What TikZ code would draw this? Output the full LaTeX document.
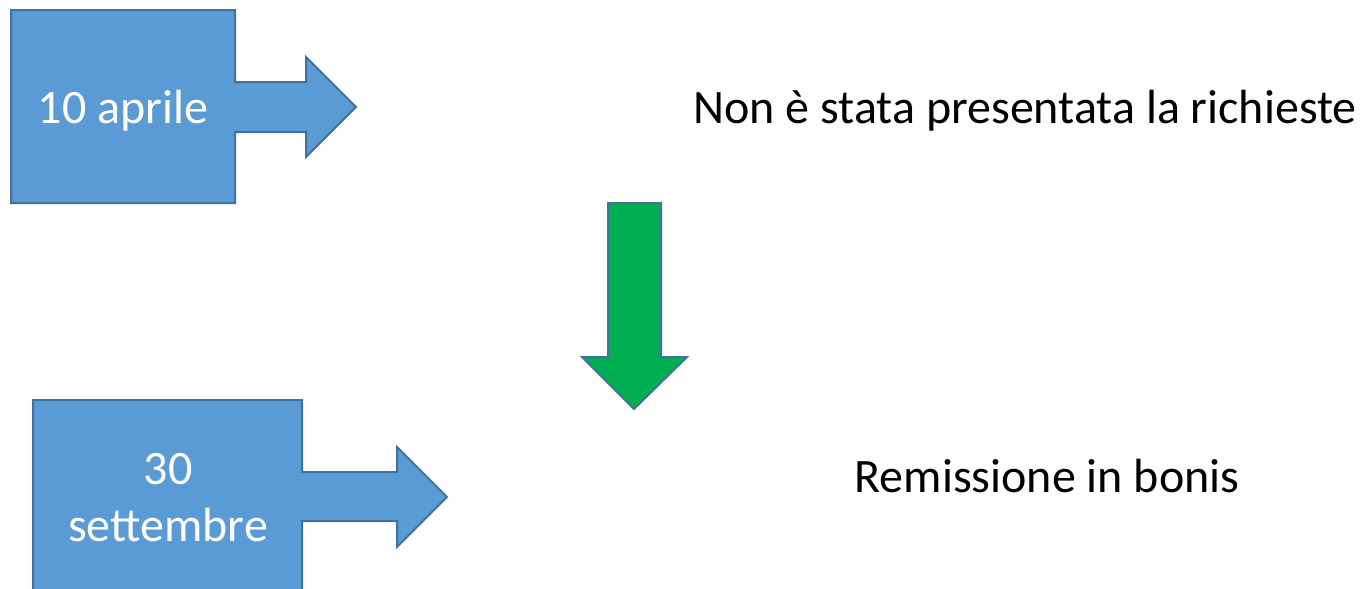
\documentclass[tikz,border=0pt]{standalone}
\usepackage{fontspec}
\setmainfont{Carlito}
\definecolor{boxblue}{HTML}{5B9BD5}
\definecolor{edgeblue}{HTML}{41719C}
\definecolor{arrgreen}{HTML}{00B050}
\begin{document}
\begin{tikzpicture}[x=0.75pt,y=-0.75pt,
  callout/.style={fill=boxblue,draw=edgeblue,line width=1.5pt,line join=miter},
  downarr/.style={fill=arrgreen,draw=edgeblue,line width=1.5pt,line join=miter},
  boxtext/.style={text=white,font=\fontsize{36pt}{43pt}\selectfont,inner sep=0pt,anchor=base},
  plaintext/.style={text=black,font=\fontsize{36pt}{43pt}\selectfont,inner sep=0pt,anchor=base}]
\useasboundingbox (0,0) rectangle (1364,589);
% callout 1
\draw[callout] (11,10) -- (235,10) -- (235,82) -- (306,82) -- (306,57) -- (356,107)
  -- (306,157) -- (306,132) -- (235,132) -- (235,203) -- (11,203) -- cycle;
\node[boxtext] (t1) at (123,123) {10 aprile};
% callout 2
\draw[callout] (33,600) -- (33,400) -- (302,400) -- (302,472) -- (397,472) -- (397,447)
  -- (447,497) -- (397,547) -- (397,521) -- (302,521) -- (302,600);
\node[boxtext] (t2a) at (168,484) {30};
\node[boxtext] (t2b) at (168,541) {settembre};
% green down arrow
\draw[downarr] (608,203) -- (661,203) -- (661,357) -- (687,357) -- (634,409)
  -- (582,357) -- (608,357) -- cycle;
\node[plaintext] (n1) at (1025,123) {Non è stata presentata la richieste};
\node[plaintext] (n2) at (1047,492) {Remissione in bonis};
\end{tikzpicture}
\end{document}
